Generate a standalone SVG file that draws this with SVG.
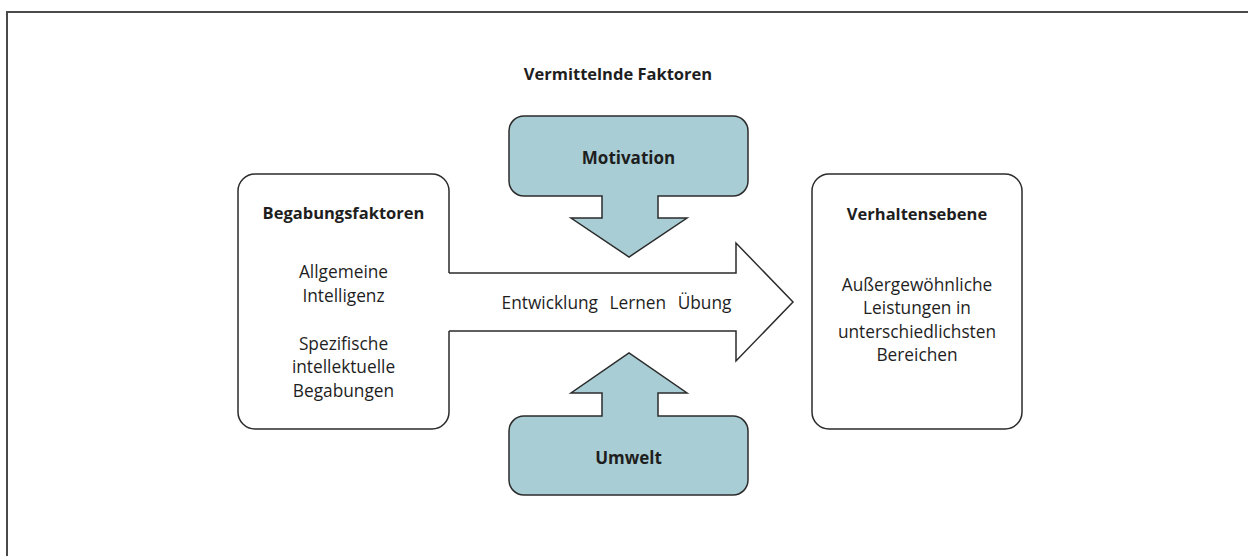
<svg xmlns="http://www.w3.org/2000/svg" width="1248" height="556" viewBox="0 0 1248 556">
<style>
  .frame { fill: none; stroke: #4a4a4a; stroke-width: 2; }
  .box { fill: #ffffff; stroke: #2b2b2b; stroke-width: 1.5; }
  .blue { fill: #a8cdd4; stroke: #2b2b2b; stroke-width: 1.5; stroke-linejoin: miter; }
  .arrowfill { fill: #ffffff; stroke: none; }
  .arrowline { fill: none; stroke: #2b2b2b; stroke-width: 1.5; }
  text { font-family: "Open Sans", "Noto Sans", "Liberation Sans", sans-serif; fill: #1e1e1e; text-anchor: middle; }
  .h { font-weight: bold; font-size: 16.5px; }
  .hb { font-weight: bold; font-size: 17px; }
  .t { font-size: 17.3px; }
</style>
<rect width="1248" height="556" fill="#ffffff"/>
<path class="frame" d="M7,556 V12 H1248"/>

<text class="h" x="618" y="80">Vermittelnde Faktoren</text>

<g id="begabungsfaktoren">
  <rect class="box" x="238" y="174" width="211" height="255" rx="17" ry="17"/>
  <text class="h" x="343.5" y="219">Begabungsfaktoren</text>
  <text class="t" x="343.5" y="278">Allgemeine</text>
  <text class="t" x="343.5" y="302">Intelligenz</text>
  <text class="t" x="343.5" y="350">Spezifische</text>
  <text class="t" x="343.5" y="373">intellektuelle</text>
  <text class="t" x="343.5" y="397">Begabungen</text>
</g>

<g id="verhaltensebene">
  <rect class="box" x="812" y="174" width="210" height="255" rx="17" ry="17"/>
  <text class="h" x="917" y="220">Verhaltensebene</text>
  <text class="t" x="917" y="291">Außergewöhnliche</text>
  <text class="t" x="917" y="314">Leistungen in</text>
  <text class="t" x="917" y="338">unterschiedlichsten</text>
  <text class="t" x="917" y="361">Bereichen</text>
</g>

<g id="connectors">
  <path class="arrowfill" d="M447,273 H736 V243 L793,302 L736,361 V331 H447 Z"/>
  <path class="arrowline" d="M449,273 H736 V243 L793,302 L736,361 V331 H449"/>
  <text class="t" x="616.5" y="309" word-spacing="7">Entwicklung Lernen Übung</text>
</g>

<g id="motivation">
  <path class="blue" d="M524,116 H733 A15,15 0 0 1 748,131 V181 A15,15 0 0 1 733,196 H658 V218 H687 L629,257 L571,218 H602 V196 H524 A15,15 0 0 1 509,181 V131 A15,15 0 0 1 524,116 Z"/>
  <text class="hb" x="628.5" y="164">Motivation</text>
</g>

<g id="umwelt">
  <path class="blue" d="M524,416 H602 V393 H571 L629,353 L687,393 H658 V416 H733 A15,15 0 0 1 748,431 V480 A15,15 0 0 1 733,495 H524 A15,15 0 0 1 509,480 V431 A15,15 0 0 1 524,416 Z"/>
  <text class="hb" x="628.5" y="464">Umwelt</text>
</g>
</svg>
